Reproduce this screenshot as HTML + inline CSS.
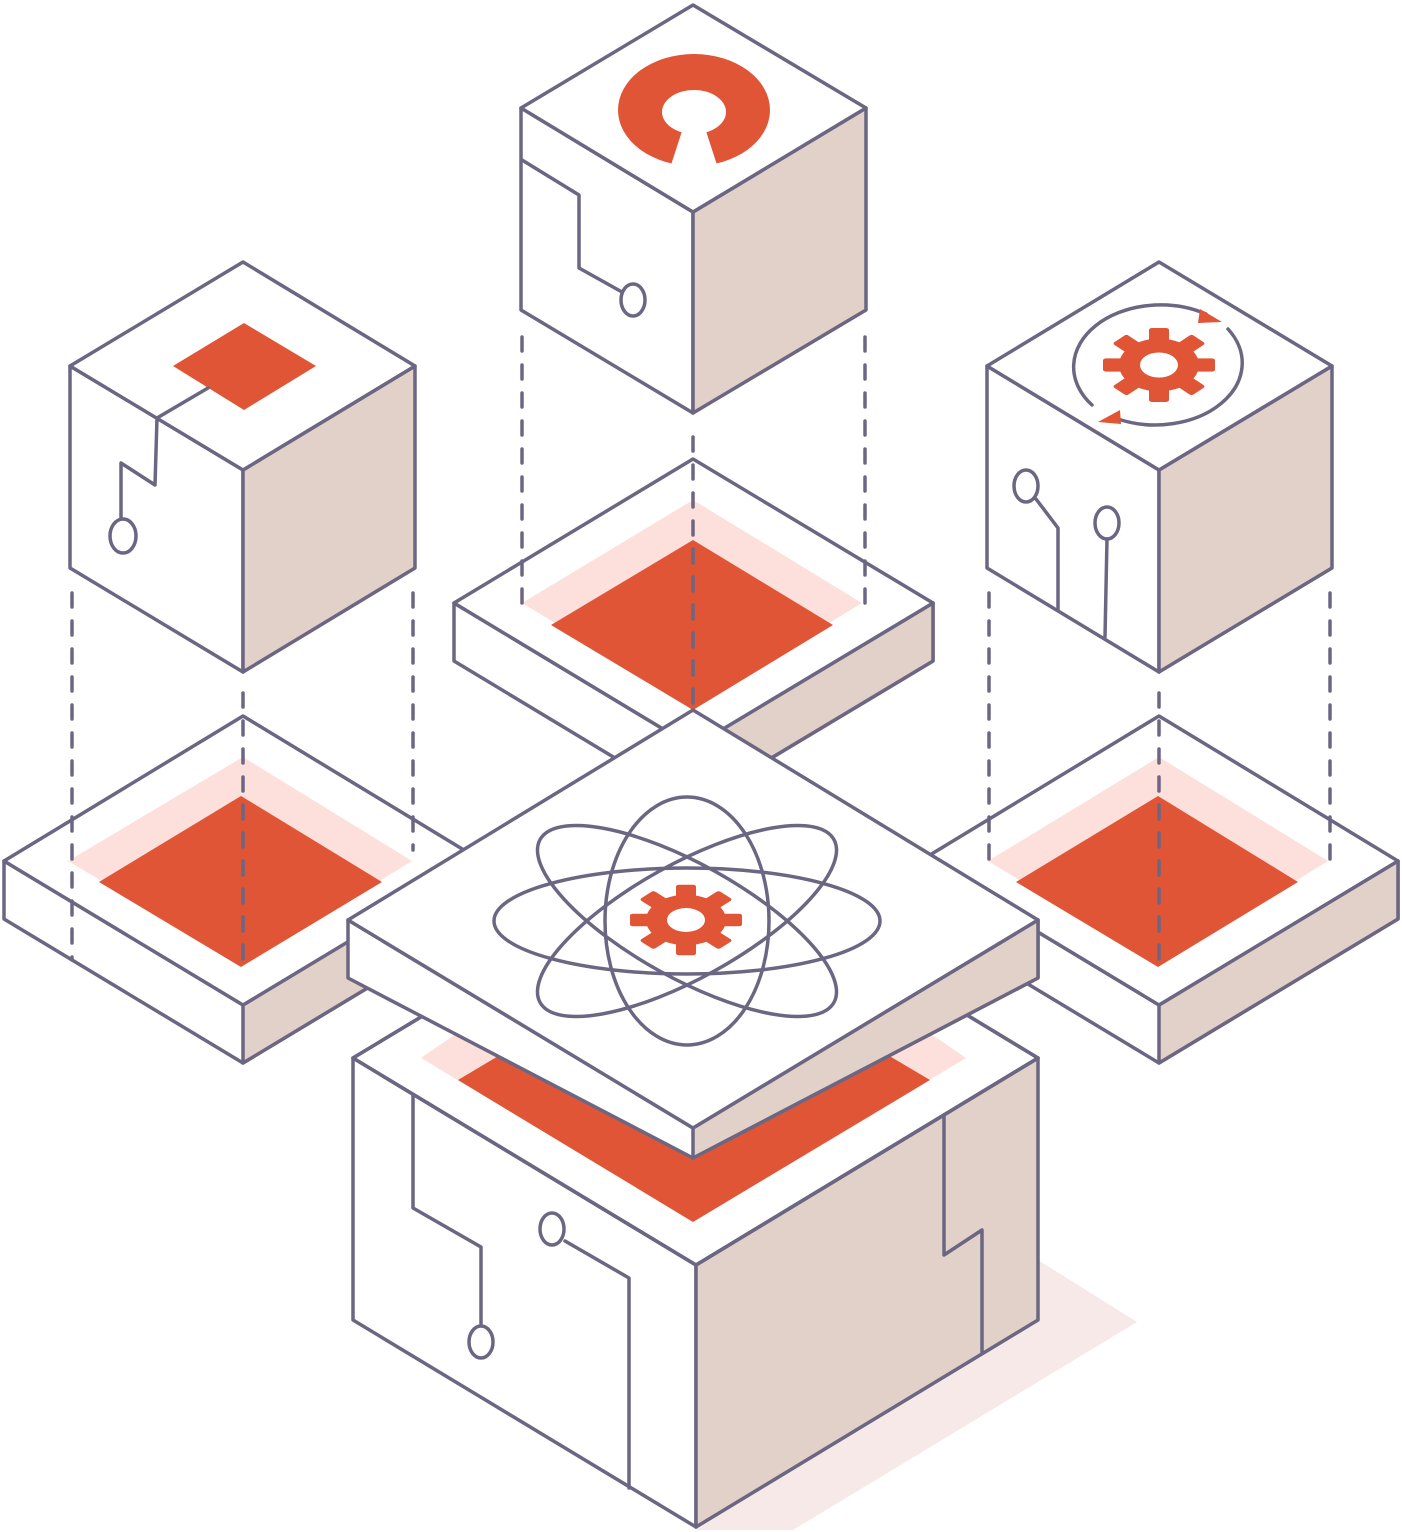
<!DOCTYPE html>
<html><head><meta charset="utf-8"><style>html,body{margin:0;padding:0;background:#fff}svg{display:block}</style></head>
<body>
<svg width="1402" height="1532" viewBox="0 0 1402 1532" xmlns="http://www.w3.org/2000/svg">
<defs>
<g id="gear" stroke="none">
  <g fill="#e05535" stroke="none">
    <circle r="40"/>
    <rect x="-10" y="-56" width="20" height="112" rx="3"/>
    <rect x="-10" y="-56" width="20" height="112" rx="3" transform="rotate(45)"/>
    <rect x="-10" y="-56" width="20" height="112" rx="3" transform="rotate(90)"/>
    <rect x="-10" y="-56" width="20" height="112" rx="3" transform="rotate(135)"/>
  </g>
  <ellipse rx="19" ry="19" fill="#fff" stroke="none"/>
</g>
</defs>
<g stroke="#6b6783" stroke-width="3.5" stroke-linejoin="round" stroke-linecap="round" fill="none">
<polygon points="1038,1260 1137,1322 793,1530 696,1530" fill="#f6e9e8" stroke="none"/>

<polygon points="454,603 693,747 933,603 933,661 693,805 454,661" fill="#fff"/>
<polygon points="693,747 933,603 933,661 693,805" fill="#e2d1c9"/>
<polygon points="693,459 933,603 693,747 454,603" fill="#fff"/>
<polygon points="693,500 862,603 693,706 522,603" fill="#fde0db" stroke="none"/>
<polygon points="693,540 833,625 693,710 551,625" fill="#e05535" stroke="none"/>

<polygon points="4,861 243,1005 482,861 482,919 243,1063 4,919" fill="#fff"/>
<polygon points="243,1005 482,861 482,919 243,1063" fill="#e2d1c9"/>
<polygon points="243,716 482,861 243,1005 4,861" fill="#fff"/>
<polygon points="243,757 412,861 243,965 68,861" fill="#fde0db" stroke="none"/>
<polygon points="241,796 382,882 241,967 99,882" fill="#e05535" stroke="none"/>

<polygon points="920,861 1159,1005 1398,861 1398,919 1159,1063 920,919" fill="#fff"/>
<polygon points="1159,1005 1398,861 1398,919 1159,1063" fill="#e2d1c9"/>
<polygon points="1159,716 1398,861 1159,1005 920,861" fill="#fff"/>
<polygon points="1159,757 1328,861 1159,965 988,861" fill="#fde0db" stroke="none"/>
<polygon points="1158,796 1298,882 1158,967 1016,882" fill="#e05535" stroke="none"/>

<g stroke-dasharray="14,14">
<line x1="522" y1="337" x2="522" y2="605"/>
<line x1="865" y1="337" x2="865" y2="605"/>
<line x1="693" y1="437" x2="693" y2="705"/>
<line x1="72" y1="593" x2="72" y2="960"/>
<line x1="243" y1="693" x2="243" y2="965"/>
<line x1="413" y1="593" x2="413" y2="850"/>
<line x1="989" y1="593" x2="989" y2="860"/>
<line x1="1159" y1="693" x2="1159" y2="965"/>
<line x1="1330" y1="593" x2="1330" y2="860"/>
</g>

<polygon points="353,1058 696,1265 696,1527 353,1320" fill="#fff"/>
<polygon points="696,1265 1038,1058 1038,1320 696,1527" fill="#e2d1c9"/>
<polygon points="696,851 1038,1058 696,1265 353,1058" fill="#fff"/>
<polygon points="693,870 966,1058 693,1222 421,1058" fill="#fde0db" stroke="none"/>
<polygon points="693,940 930,1080 693,1222 458,1080" fill="#e05535" stroke="none"/>
<polygon points="696,851 1038,1058 696,1265 353,1058"/>
<polyline points="413,1095 413,1208 481,1247 481,1325"/>
<ellipse cx="481" cy="1342" rx="12" ry="16" fill="#fff"/>
<ellipse cx="552" cy="1229" rx="12" ry="16" fill="#fff"/>
<polyline points="565,1241 629,1278 629,1488"/>
<polyline points="944,1115 944,1255 982,1230 982,1352"/>

<polygon points="348,920 693,1128 1038,920 1038,978 693,1158 348,978" fill="#fff"/>
<polygon points="693,1128 1038,920 1038,978 693,1158" fill="#e2d1c9"/>
<polygon points="693,710 1038,920 693,1128 348,920" fill="#fff"/>
<ellipse cx="687" cy="921" rx="193" ry="53"/>
<ellipse cx="687" cy="921" rx="82" ry="124"/>
<ellipse cx="687" cy="921" rx="168" ry="57" transform="rotate(29 687 921)"/>
<ellipse cx="687" cy="921" rx="168" ry="57" transform="rotate(-29 687 921)"/>
<g transform="translate(686,920) scale(1,0.63)"><use href="#gear"/></g>

<polygon points="521,108 693,212 693,413 521,310" fill="#fff"/>
<polygon points="693,212 866,108 866,310 693,413" fill="#e2d1c9"/>
<polygon points="693,5 866,108 693,212 521,108" fill="#fff"/>
<ellipse cx="694" cy="110" rx="76" ry="56" fill="#e05535" stroke="none"/>
<ellipse cx="694" cy="112" rx="32" ry="22" fill="#fff" stroke="none"/>
<polygon points="683,128 705,128 718,168 670,168" fill="#fff" stroke="none"/>
<polyline points="522,160 579,195 579,268 622,292"/>
<ellipse cx="633" cy="300" rx="12" ry="16" fill="#fff"/>

<polygon points="70,366 243,470 243,672 70,568" fill="#fff"/>
<polygon points="243,470 415,366 415,568 243,672" fill="#e2d1c9"/>
<polygon points="243,262 415,366 243,470 70,366" fill="#fff"/>
<polygon points="244,323 316,366 244,410 173,366" fill="#e05535" stroke="none"/>
<polyline points="208,388 157,418 155,485 121,463 121,520"/>
<ellipse cx="123" cy="536" rx="13" ry="17" fill="#fff"/>

<polygon points="987,366 1159,470 1159,672 987,568" fill="#fff"/>
<polygon points="1159,470 1332,366 1332,568 1159,672" fill="#e2d1c9"/>
<polygon points="1159,262 1332,366 1159,470 987,366" fill="#fff"/>
<path d="M1092,405 A87,62 0 0 1 1206,314"/>
<path d="M1228,329 A87,62 0 0 1 1118,419"/>
<polygon points="1200,309 1222,322 1198,323" fill="#e05535" stroke="none"/>
<polygon points="1120,410 1098,422 1121,424" fill="#e05535" stroke="none"/>
<g transform="translate(1159,365) scale(1,0.66)"><use href="#gear"/></g>
<ellipse cx="1026" cy="486" rx="12" ry="16" fill="#fff"/>
<polyline points="1036,499 1058,528 1058,610"/>
<ellipse cx="1107" cy="523" rx="12" ry="16" fill="#fff"/>
<polyline points="1107,539 1105,637"/>
</g>
</svg>
</body></html>
